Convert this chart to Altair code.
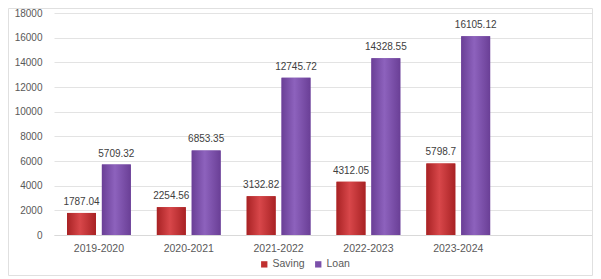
import altair as alt
import pandas as pd

years = ["2019-2020", "2020-2021", "2021-2022", "2022-2023", "2023-2024"]
saving = [1787.04, 2254.56, 3132.82, 4312.05, 5798.7]
loan = [5709.32, 6853.35, 12745.72, 14328.55, 16105.12]
saving_labels = ["1787.04", "2254.56", "3132.82", "4312.05", "5798.7"]
loan_labels = ["5709.32", "6853.35", "12745.72", "14328.55", "16105.12"]
series = ["Saving", "Loan"]
colors = ["#C0302F", "#7B50AA"]
y_ticks = [0, 2000, 4000, 6000, 8000, 10000, 12000, 14000, 16000, 18000]

rows = []
for i, yr in enumerate(years):
    rows.append({"year": yr, "series": "Saving", "value": saving[i], "label": saving_labels[i]})
    rows.append({"year": yr, "series": "Loan", "value": loan[i], "label": loan_labels[i]})
df = pd.DataFrame(rows)

x_domain = years + [" "]
FONT = "Liberation Sans"

x_enc = alt.X("year:N", scale=alt.Scale(domain=x_domain, paddingInner=0.29, paddingOuter=0.145),
              axis=alt.Axis(title=None, labelAngle=0, labelFontSize=10.5, labelColor="#595959",
                            labelFont=FONT, ticks=False, domainColor="#D9D9D9", labelPadding=8,
                            grid=False,
                            labelExpr="datum.label == ' ' ? '' : datum.label"))
xo_enc = alt.XOffset("series:N", scale=alt.Scale(domain=series, paddingInner=0.17, paddingOuter=0))
y_enc = alt.Y("value:Q", scale=alt.Scale(domain=[0, 18000], nice=False),
              axis=alt.Axis(title=None, values=y_ticks, format="d", labelFontSize=10,
                            labelColor="#595959", grid=True,
                            labelFont=FONT, ticks=False, domain=False, gridColor="#E3E3E3",
                            labelPadding=12))

base = alt.Chart(df)

bars = base.mark_bar().encode(
    x=x_enc, xOffset=xo_enc, y=y_enc,
    color=alt.Color("series:N", scale=alt.Scale(domain=series, range=colors),
                    legend=alt.Legend(title=None, orient="none", legendX=205, legendY=246,
                                      direction="horizontal",
                                      symbolType="square", symbolSize=40, labelFontSize=10.5,
                                      labelColor="#595959", labelFont=FONT, columnPadding=8,
                                      labelOffset=3, symbolStrokeWidth=0)),
)

def grad(c_edge, c_mid):
    return alt.Gradient(gradient="linear", x1=0, x2=1, y1=0, y2=0,
                        stops=[alt.GradientStop(color=c_edge, offset=0),
                               alt.GradientStop(color=c_mid, offset=0.45),
                               alt.GradientStop(color=c_edge, offset=1)])

over_s = base.mark_bar(color=grad("#A82224", "#D8474A")).encode(
    x=x_enc, xOffset=xo_enc, y=y_enc).transform_filter(alt.datum.series == "Saving")
over_l = base.mark_bar(color=grad("#6A3F96", "#8D62BD")).encode(
    x=x_enc, xOffset=xo_enc, y=y_enc).transform_filter(alt.datum.series == "Loan")

labels = base.mark_text(baseline="bottom", dy=-6, fontSize=10, color="#404040", font=FONT).encode(
    x=x_enc, xOffset=xo_enc, y=y_enc, text="label:N")

frame = alt.Chart(pd.DataFrame({"a": [0]})).mark_rect(
    fillOpacity=0, stroke="#E0E0E0", strokeWidth=1).encode(
    x=alt.value(-45.5), x2=alt.value(538.5), y=alt.value(-4.5), y2=alt.value(262.5))

chart = alt.layer(bars, over_s, over_l, labels, frame).properties(
    width=539, height=222,
    autosize=alt.AutoSizeParams(type="none"),
    padding={"left": 46, "top": 5, "right": 0, "bottom": 42},
).configure_view(stroke=None)

chart.save("out.html", embed_options={"renderer": "svg", "actions": False})
